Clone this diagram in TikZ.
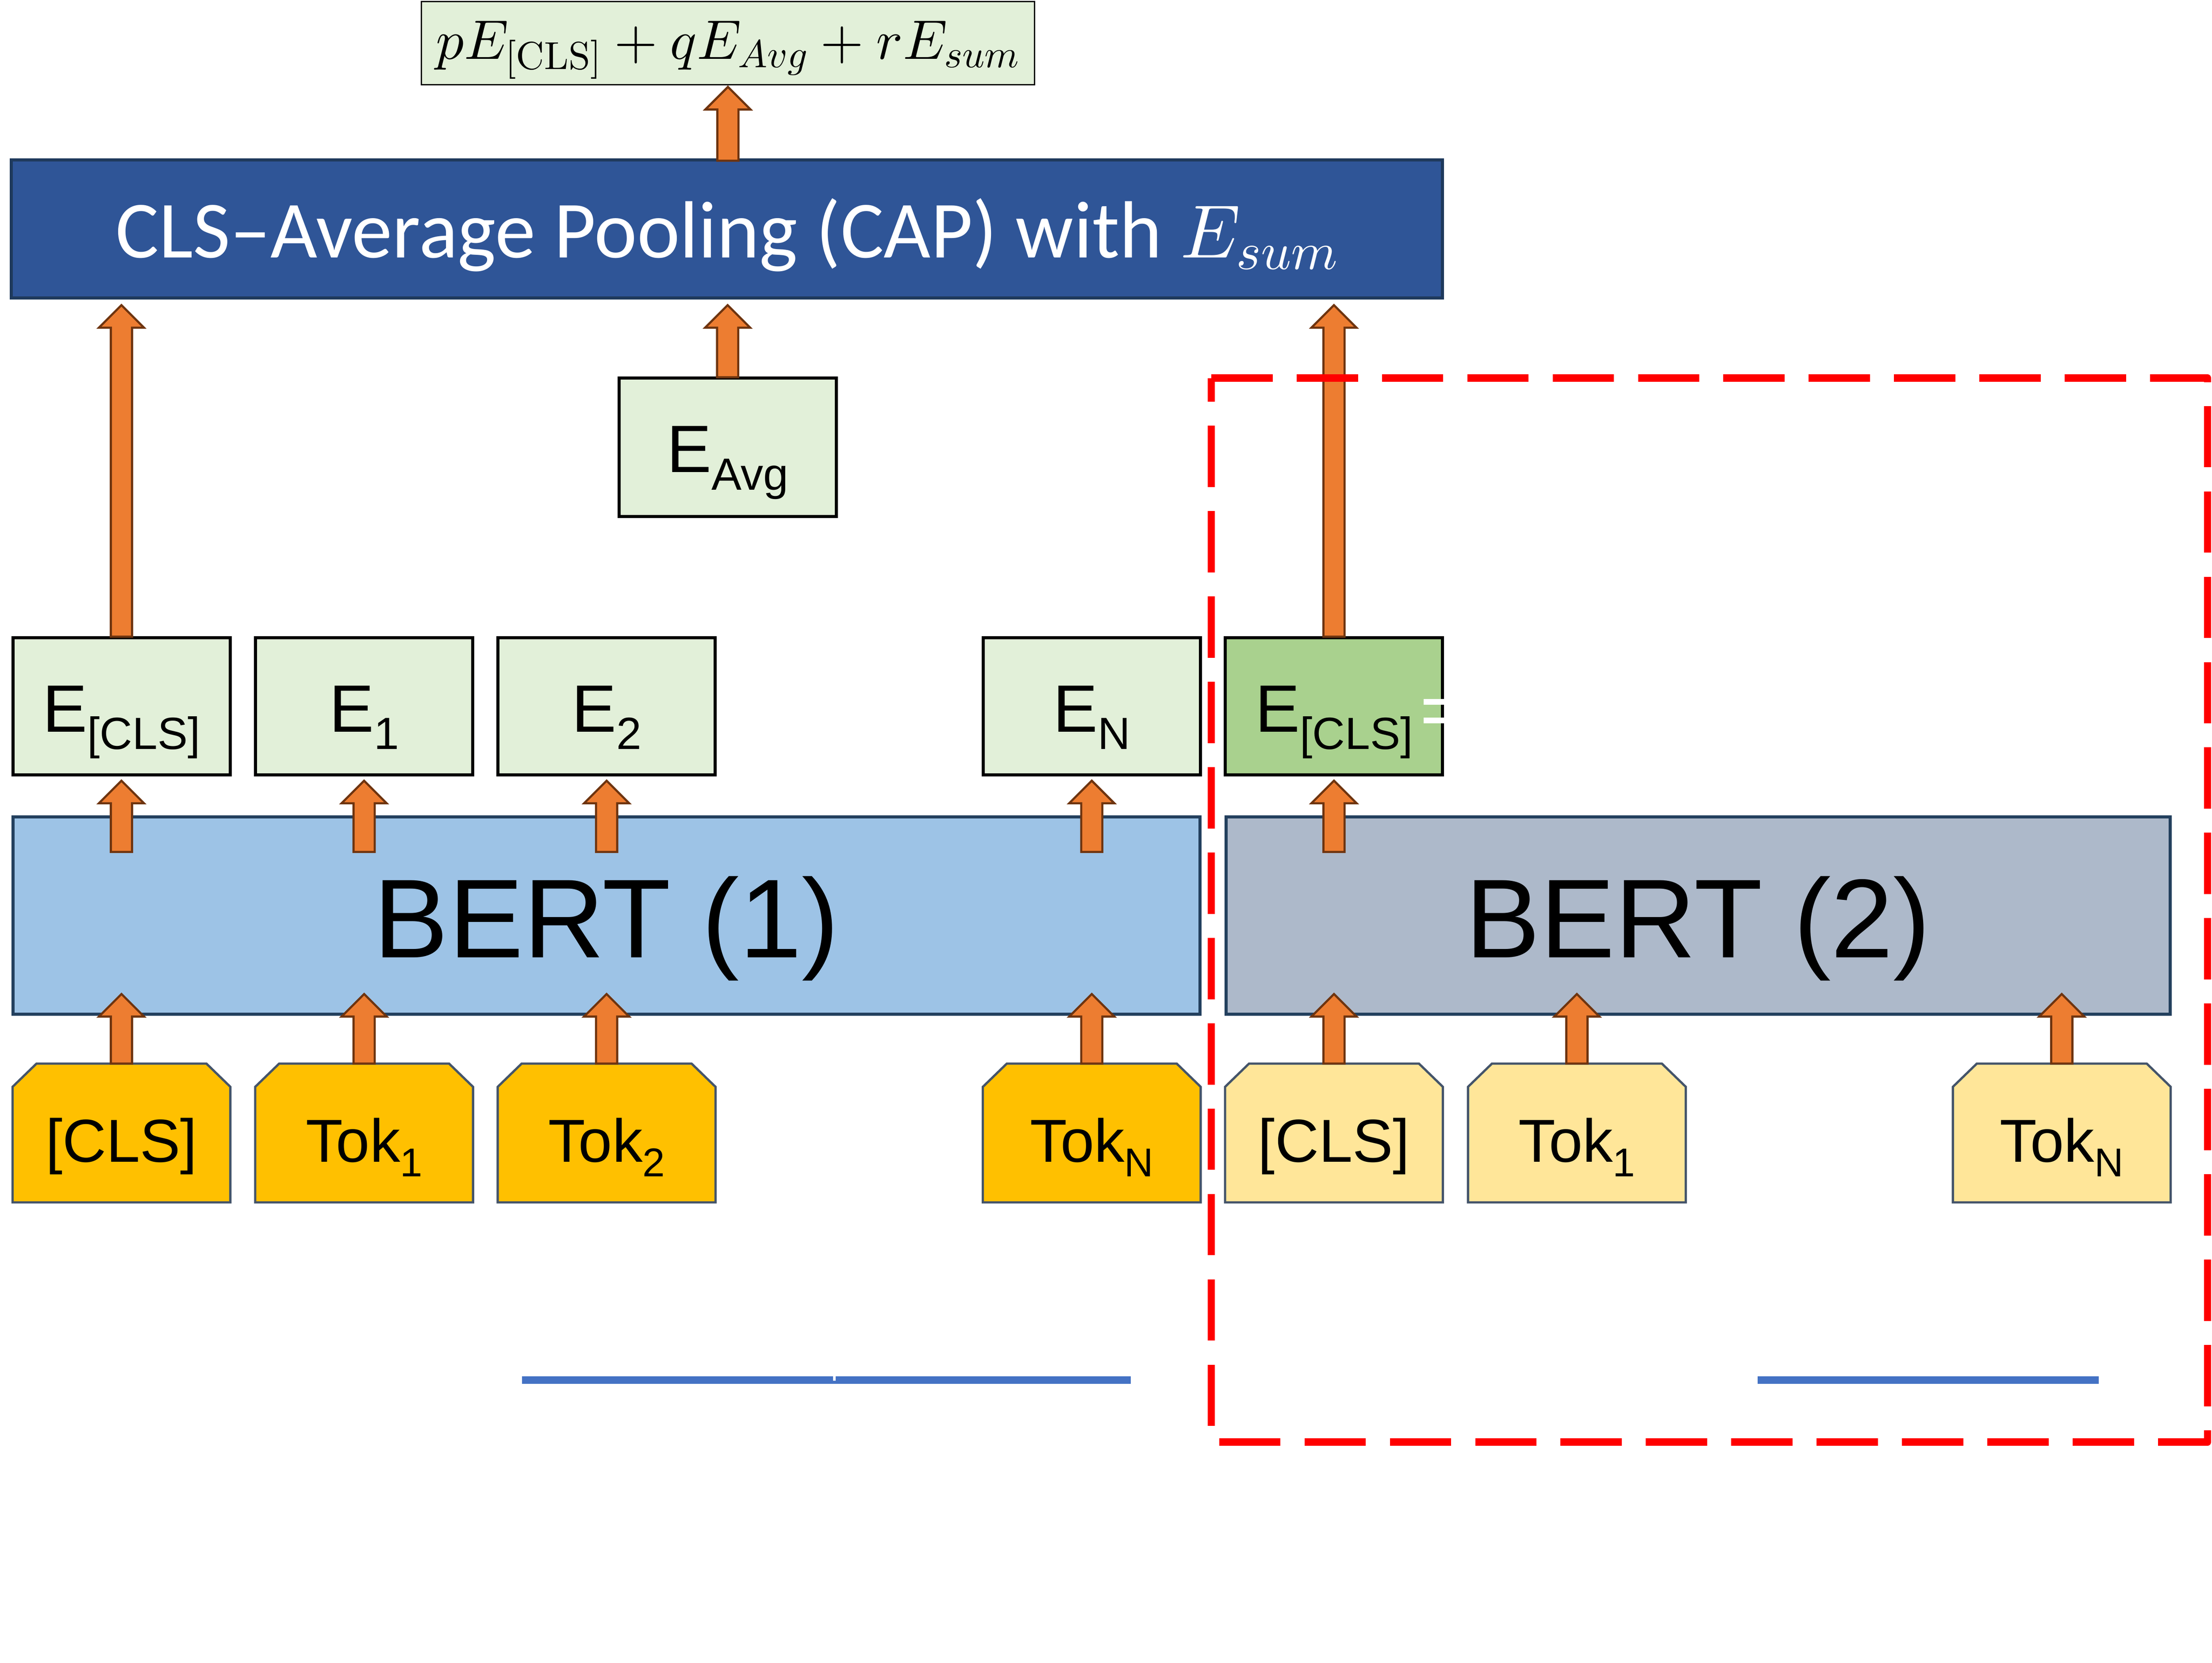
\documentclass[tikz,border=0pt]{standalone}
\usepackage[no-math]{fontspec}
\setmainfont{Liberation Sans}
\newfontfamily\capfont{Carlito}
\DeclareFontShape{OT1}{cmr}{m}{n}{<->cmr10}{}
\DeclareFontShape{OML}{cmm}{m}{it}{<->cmmi10}{}
\DeclareFontShape{OMS}{cmsy}{m}{n}{<->cmsy10}{}
\usetikzlibrary{calc}
\definecolor{lgreen}{HTML}{E2F0D9}
\definecolor{dgreen}{HTML}{A9D18E}
\definecolor{capblue}{HTML}{2F5597}
\definecolor{capedge}{RGB}{31,58,92}
\definecolor{bertone}{HTML}{9DC3E6}
\definecolor{berttwo}{HTML}{ADB9CA}
\definecolor{bertedge}{RGB}{35,64,94}
\definecolor{tokone}{HTML}{FFC000}
\definecolor{toktwo}{HTML}{FFE699}
\definecolor{tokedge}{HTML}{44546A}
\definecolor{orng}{HTML}{ED7D31}
\definecolor{brwn}{RGB}{110,52,15}
\definecolor{redd}{HTML}{FF0000}
\definecolor{bluel}{HTML}{4472C4}
\pgfdeclarelayer{bg}
\pgfsetlayers{bg,main}
\newcommand\esub[1]{\raisebox{-12.3pt}{\fontsize{32}{34}\selectfont #1}}
\newcommand\tsub[1]{\raisebox{-10.3pt}{\fontsize{28.5}{30}\selectfont #1}}
\newcommand\blkarrow[4]{%
  \draw[blk] let \p1=#1, \p2=#2 in
   ({\x2-7.5pt},{\y1-(#3)}) -- ({\x2-7.5pt},{\y2-(#4)-16pt}) -- ({\x2-16pt},{\y2-(#4)-16pt})
   -- ({\x2},{\y2-(#4)}) -- ({\x2+16pt},{\y2-(#4)-16pt}) -- ({\x2+7.5pt},{\y2-(#4)-16pt})
   -- ({\x2+7.5pt},{\y1-(#3)}) -- cycle;}
\newcommand\tokshape[2]{%
  \begin{pgfonlayer}{bg}
  \draw[tokline,fill=#2] (#1.south west) -- ([yshift=-16.5pt]#1.north west) -- ([xshift=17pt]#1.north west)
    -- ([xshift=-17pt]#1.north east) -- ([yshift=-16.5pt]#1.north east) -- (#1.south east) -- cycle;
  \end{pgfonlayer}}
\tikzset{
  ebox/.style={draw=black, line width=2.2pt, fill=lgreen, inner sep=0pt, anchor=base,
    minimum width=154pt, text height=66.8pt, text depth=30.6pt, font=\fontsize{47.5}{50}\selectfont},
  tokbox/.style={inner sep=0pt, anchor=base, minimum width=154pt, text height=69.6pt, text depth=28.4pt,
    font=\fontsize{43}{46}\selectfont},
  tokline/.style={draw=tokedge, line width=1.6pt, line join=miter},
  bertbox/.style={draw=bertedge, line width=2.2pt, inner sep=0pt, anchor=base,
    text height=99.7pt, text depth=40.1pt, font=\fontsize{79.5}{82}\selectfont},
  blk/.style={fill=orng, draw=brwn, line width=1.5pt, line join=miter},
  reddash/.style={draw=redd, line width=5.2pt, dash pattern=on 43.5pt off 17pt, line join=round},
  blueline/.style={draw=bluel, line width=5.5pt},
}
\begin{document}
\begin{tikzpicture}[x=1pt,y=-1pt]
\useasboundingbox (0,0) rectangle (1568,1178.6);
% top formula
\node[draw=black, line width=1pt, fill=lgreen, inner sep=0pt, anchor=base, minimum width=434.8pt,
  text height=40.8pt, text depth=18.3pt, font=\fontsize{39.5}{44}\selectfont]
  (form) at (516,41.8) {$pE_{[\mathrm{CLS}]}+qE_{Avg}+rE_{sum}$};
% CAP
\node[draw=capedge, line width=2.2pt, fill=capblue, text=white, inner sep=0pt, anchor=base,
  minimum width=1014.5pt, text height=69.3pt, text depth=28.4pt, font=\fontsize{57.5}{60}\capfont]
  (cap) at (515.3,182.8) {CLS–Average Pooling (CAP) with {\fontsize{53.5}{56}\selectfont$E_{sum}$}};
% E_Avg
\node[ebox, text height=66.9pt, text depth=31.3pt] (eavg) at (515.8,334.9) {E\esub{Avg}};
% E row
\node[ebox] (e0) at (86.1,518.7) {E\esub{[CLS]}};
\node[ebox] (e1) at (258.1,518.7) {E\esub{1}};
\node[ebox] (e2) at (430,518.7) {E\esub{2}};
\node[ebox] (eN) at (773.9,518.7) {E\esub{N}};
\node[ebox, fill=dgreen] (ec2) at (945.6,518.7) {E\esub{[CLS]}};
% BERT boxes
\node[bertbox, fill=bertone, minimum width=841.3pt] (bert1) at (429.9,678.7) {BERT (1)};
\node[bertbox, fill=berttwo, minimum width=669pt] (bert2) at (1203.7,678.7) {BERT (2)};
% tokens
\node[tokbox] (t0) at (86.1,823.7) {[CLS]};
\node[tokbox] (t1) at (258.1,823.7) {Tok\tsub{1}};
\node[tokbox] (t2) at (430,823.7) {Tok\tsub{2}};
\node[tokbox] (tN) at (773.9,823.7) {Tok\tsub{N}};
\node[tokbox] (u0) at (945.6,823.7) {[CLS]};
\node[tokbox] (u1) at (1117.8,823.7) {Tok\tsub{1}};
\node[tokbox] (uN) at (1461.5,823.7) {Tok\tsub{N}};
\foreach \t in {t0,t1,t2,tN}{\tokshape{\t}{tokone}}
\foreach \t in {u0,u1,uN}{\tokshape{\t}{toktwo}}
% arrows
\blkarrow{(cap.north -| form.south)}{(form.south)}{1.5pt}{1pt}
\blkarrow{(e0.north)}{(cap.south -| e0.north)}{0.5pt}{4pt}
\blkarrow{(eavg.north)}{(cap.south -| eavg.north)}{0.5pt}{4pt}
\blkarrow{(ec2.north)}{(cap.south -| ec2.north)}{0.5pt}{4pt}
\foreach \e in {e0,e1,e2,eN}{\blkarrow{(bert1.north -| \e.south)}{(\e.south)}{26pt}{3pt}}
\blkarrow{(bert2.north -| ec2.south)}{(ec2.south)}{26pt}{3pt}
\foreach \t in {t0,t1,t2,tN}{\blkarrow{(\t.north)}{(bert1.south -| \t.north)}{0pt}{-15.3pt}}
\foreach \t in {u0,u1,uN}{\blkarrow{(\t.north)}{(bert2.south -| \t.north)}{0pt}{-15.3pt}}
% small white marks at the green box
\draw[white, line width=4.1pt] (1009.3,497.5) -- (1023.6,497.5) (1009.3,510.8) -- (1023.6,510.8);
% red dashed frame
\coordinate (r1) at (858.6,268);
\coordinate (r2) at (1564.8,268);
\coordinate (r3) at (1564.8,1022.2);
\coordinate (r4) at (858.6,1022.2);
\draw[reddash] (r1) -- (r2) -- (r3) -- (r4) -- cycle;
% blue lines
\coordinate (b1) at (370,978.2);
\coordinate (b2) at (801.6,978.2);
\coordinate (b3) at (1246,978.2);
\coordinate (b4) at (1487.8,978.2);
\draw[blueline] (b1) -- (b2);
\draw[blueline] (b3) -- (b4);
\fill[white] (590.6,975.4) rectangle (592.4,978.6);
\end{tikzpicture}
\end{document}
